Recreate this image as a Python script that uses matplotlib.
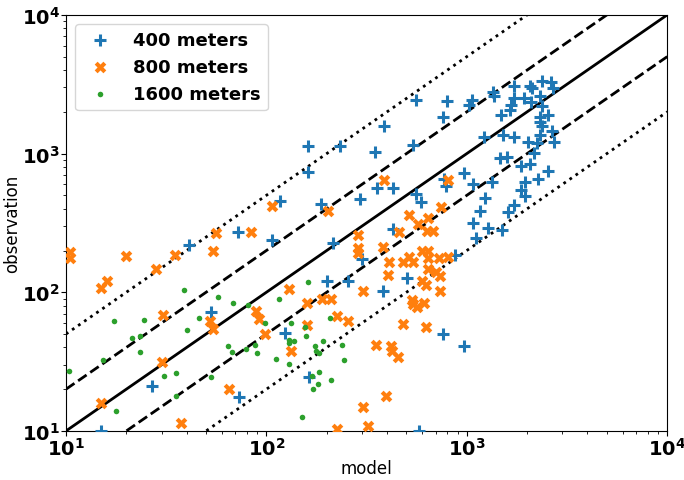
import matplotlib
matplotlib.use("Agg")
import matplotlib.pyplot as plt
import numpy as np

plt.rcParams['mathtext.default'] = 'bf'

# 400 meters (model, observation)
model_400 = [162, 234, 162, 117, 188, 292, 385, 350, 560, 537, 760, 795, 1060, 1020,
             1350, 1365, 1720, 1720, 2065, 2110, 2370, 2630, 2690, 1930, 2090, 2320,
             1660, 1640, 1480, 2370, 2320, 2540, 2320, 2370, 1215, 1515, 1720, 2020,
             2240, 2320, 2660, 2720, 2160, 1460, 1585, 1860, 2065, 2540, 2265, 1950,
             1860, 1950, 1720, 1600, 965, 1335, 1070, 1230, 1160, 767, 785, 560, 590,
             430, 355, 430, 300, 255, 380, 505, 1070, 1110, 1275, 1500, 870, 760, 965,
             575, 72, 107, 216, 200, 41, 53, 27, 15, 124, 164, 73]
obs_400 = [1140, 1140, 740, 455, 435, 470, 1580, 1030, 2430, 1150, 1840, 2390, 2430, 2240,
           2780, 2600, 3070, 2520, 3070, 2970, 3330, 3280, 2970, 2520, 2355, 2600,
           2240, 2060, 1900, 2200, 1840, 1900, 1690, 1580, 1320, 1360, 1320, 1210,
           1190, 1360, 1455, 1210, 1010, 930, 945, 815, 840, 750, 655, 625,
           550, 495, 425, 380, 725, 625, 605, 480, 385, 655, 585, 510, 450,
           565, 565, 285, 175, 120, 102, 127, 315, 247, 290, 280, 186, 50, 41,
           10, 272, 238, 227, 120, 220, 72, 21, 10, 51, 24.5, 17.6]

# 800 meters
model_800 = [10.5, 10.5, 20, 35, 54, 56, 84, 107, 202, 385, 805, 28, 16, 15, 129, 160,
             190, 211, 30.5, 89, 92, 52, 54, 226, 254, 160, 98, 133, 30, 65, 15, 37.5,
             226, 288, 288, 288, 380, 407, 403, 305, 351, 417, 422, 452, 394, 305, 320,
             740, 513, 638, 569, 631, 676, 457, 596, 638, 638, 513, 479, 537, 724, 804,
             638, 700, 733, 596, 624, 733, 531, 537, 562, 610, 479, 624]
obs_800 = [195, 177, 183, 186, 199, 268, 272, 420, 385, 645, 645, 147, 120, 107, 106, 84,
           90, 90, 68, 73, 64, 62, 54, 67, 62, 58, 50, 38, 31.5, 20, 16, 11.4,
           10.3, 260, 208, 192, 212, 165, 133, 102, 42, 41, 38, 34, 18, 15, 10.9,
           412, 360, 344, 311, 277, 277, 272, 199, 199, 177, 180, 165, 165, 177, 180,
           147, 140, 131, 120, 113, 102, 88, 82, 78, 84, 59, 56]

# 1600 meters
model_1600 = [39, 57.5, 68, 81, 162, 115, 17.4, 24.5, 46, 40, 21.4, 23.4, 23.4, 15.3,
              10.3, 64.6, 67, 79, 88, 90, 98, 111, 129, 129, 138, 133, 158, 155, 207,
              237, 245, 174, 176, 182, 191, 31, 35.5, 53, 35.5, 17.8, 182, 168, 209,
              180, 170, 151, 130]
obs_1600 = [104, 92, 84, 81, 119, 90, 62, 63, 65, 53.5, 47, 48, 37, 32.5,
            27, 41, 37, 39, 42, 36.5, 60, 33, 30.4, 45, 44.6, 60, 48.4, 56, 65,
            42, 32.5, 41, 38, 36.5, 44.6, 25, 26, 24.5, 18, 14, 26.6, 25, 23.3,
            21.8, 20, 12.6, 43]

# reference lines: factor and style
ref_factors = [1, 2, 0.5, 5, 0.2]
ref_styles = ['-', '--', '--', ':', ':']

lims = [10, 1e4]

fig = plt.figure(figsize=(6.84, 4.81), dpi=100)
ax = fig.add_axes([0.0965, 0.102, 0.879, 0.865])

ax.scatter(model_400, obs_400, marker='+', s=75, linewidths=2.2, color='C0',
           label='400 meters', zorder=3)
ax.scatter(model_800, obs_800, marker='X', s=70, color='C1', linewidths=0,
           label='800 meters', zorder=3)
ax.scatter(model_1600, obs_1600, marker='o', s=16, color='C2', linewidths=0,
           label='1600 meters', zorder=3)

xs = np.array(lims)
for f, ls in zip(ref_factors, ref_styles):
    ax.plot(xs, f * xs, color='k', linestyle=ls, linewidth=2, zorder=2)

ax.set_xscale('log')
ax.set_yscale('log')
ax.set_xlim(lims)
ax.set_ylim(lims)

ax.tick_params(which='major', labelsize=14, pad=1)
for lab in ax.get_xticklabels() + ax.get_yticklabels():
    lab.set_fontweight('bold')

ax.set_xlabel('model', fontsize=12, labelpad=0)
ax.set_ylabel('observation', fontsize=12, labelpad=0)

leg = ax.legend(loc='upper left', prop={'weight': 'bold', 'size': 13})

fig.savefig('out.png', dpi=100)
